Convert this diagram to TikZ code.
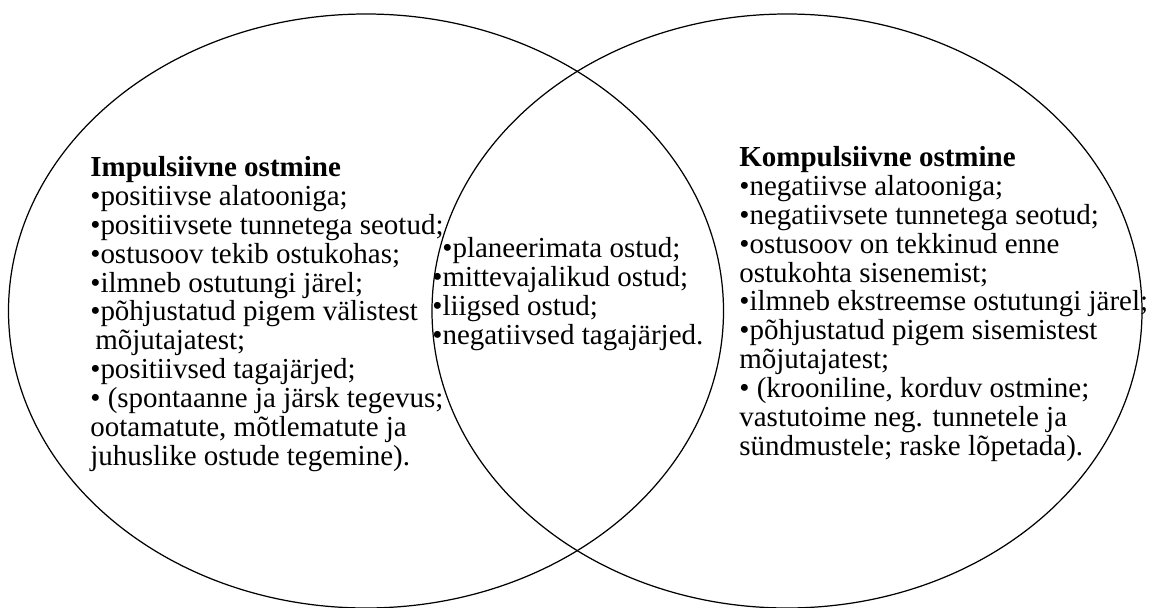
\documentclass[tikz,border=0pt]{standalone}
\usepackage{fontspec}
\setmainfont{Liberation Serif}
\usetikzlibrary{shapes.geometric, positioning}
\tikzstyle{oval} = [ellipse, minimum width=14.3cm, minimum height=11.88cm, inner sep=0pt, draw=black, line width=0.7pt]
\tikzstyle{list} = [anchor=base west, inner sep=0pt, align=left, font=\fontsize{16.5}{16.4}\selectfont]

\begin{document}
\begin{tikzpicture}[node distance=0cm]
    \useasboundingbox (0,0) rectangle (23.06,12.14);

    \node (oval1) [oval] at (7.32,5.92) {};
    \node (oval2) [oval, minimum width=14.2cm, right of = oval1, xshift=8.42cm] {};

    % anchored at the baseline of the last line
    \node (list1) [list] at (1.80,2.84) {\textbf{Impulsiivne ostmine}\\
    •positiivse alatooniga;\\
    •positiivsete tunnetega seotud;\\
    •ostusoov tekib ostukohas;\\
    •ilmneb ostutungi järel;\\
    •põhjustatud pigem välistest\\
    \hspace{0.1cm}mõjutajatest;\\
    •positiivsed tagajärjed;\\
    • (spontaanne ja järsk tegevus;\\
    ootamatute, mõtlematute ja\\
    juhuslike ostude tegemine).};

    \node (list2) [list] at (8.64,5.26) {\hspace{0.2cm}•planeerimata ostud;\\
    •mittevajalikud ostud;\\
    •liigsed ostud;\\
    •negatiivsed tagajärjed.};

    \node (list3) [list] at (14.78,3.04) {\textbf{Kompulsiivne ostmine}\\
    •negatiivse alatooniga;\\
    •negatiivsete tunnetega seotud;\\
    •ostusoov on tekkinud enne\\
    ostukohta sisenemist;\\
    •ilmneb ekstreemse ostutungi järel;\\
    •põhjustatud pigem sisemistest\\
    mõjutajatest;\\
    • (krooniline, korduv ostmine;\\
    vastutoime neg. tunnetele ja\\
    sündmustele; raske lõpetada).};

\end{tikzpicture}
\end{document}
